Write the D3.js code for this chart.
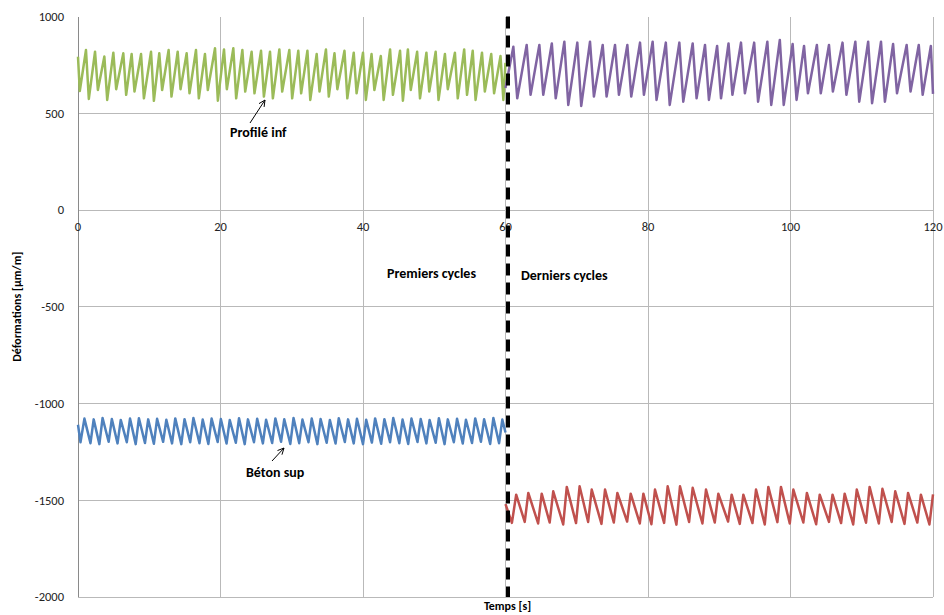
<!DOCTYPE html>
<html><head><meta charset="utf-8">
<script src="https://cdn.jsdelivr.net/npm/d3@7"></script>
<style>
body{margin:0;background:#fff;}
text{font-family:Carlito, Calibri, Lato, "Open Sans", sans-serif;}
</style>
</head><body>
<svg id="c" width="944" height="615"></svg>
<script>
// ---- data ----
const xTicks = [0, 20, 40, 60, 80, 100, 120];
const yTicks = [-2000, -1500, -1000, -500, 0, 500, 1000];

// Profilé inf, premiers cycles (green)
const greenT = [0,0.25,1.12,1.52,2.39,2.79,3.70,4.10,4.96,5.36,6.36,6.76,7.53,7.93,8.85,9.25,10.25,10.65,11.41,11.81,12.72,13.12,13.99,14.39,15.25,15.65,16.56,16.96,17.82,18.22,19.23,19.63,20.49,20.89,21.80,22.20,23.07,23.47,24.37,24.77,25.69,26.09,26.95,27.35,28.26,28.66,29.66,30.06,30.92,31.32,
  32.2,32.6,33.5,33.9,34.8,35.2,36.0,36.4,37.4,37.8,38.7,39.1,40.0,40.4,41.2,41.6,42.5,42.9,43.8,44.2,45.2,45.6,46.3,46.7,47.6,48.0,48.9,49.3,50.2,50.6,51.5,51.9,52.9,53.3,54.2,54.6,55.4,55.8,56.7,57.1,58.0,58.4,59.3,59.7,60];
const greenV = [792,615,827,574,818,620,793,569,813,624,810,595,806,612,806,577,818,564,810,620,827,586,818,624,810,603,827,577,806,620,836,565,830,624,836,577,827,612,818,603,823,586,818,577,830,612,827,577,823,603,
  823,569,806,612,830,586,810,624,823,577,813,603,813,569,806,620,796,569,830,595,823,565,830,620,818,577,813,612,818,569,806,624,813,577,830,595,823,569,813,612,806,603,796,569,760];

// Béton sup, premiers cycles (blue)
const blueT = [0,0.35,0.9,1.75,2.2,3.0,3.45,4.3,4.75,5.55,6.0,6.85,7.3,8.1,8.55,9.4,9.85,10.65,11.1,11.95,12.4,13.2,13.65,14.5,14.95,15.75,16.2,17.05,17.5,18.3,18.75,19.6,20.05,20.85,21.3,22.15,22.6,23.4,23.85,24.7,25.15,25.95,26.4,27.25,27.7,28.5,28.95,29.8,30.25,31.05,31.5,32.35,32.8,33.6,34.05,34.9,35.35,36.15,36.6,37.45,37.9,38.7,39.15,40.0,40.45,41.25,41.7,42.55,43.0,43.8,44.25,45.1,45.55,46.35,46.8,47.65,48.1,48.9,49.35,50.2,50.65,51.45,51.9,52.75,53.2,54.0,54.45,55.3,55.75,56.55,57.0,57.85,58.3,59.1,59.55,60];
const blueV = [-1110,-1200,-1078,-1205,-1082,-1210,-1075,-1198,-1080,-1206,-1085,-1200,-1078,-1210,-1076,-1204,-1082,-1208,-1079,-1198,-1084,-1206,-1077,-1210,-1081,-1200,-1075,-1205,-1083,-1209,-1078,-1199,-1080,-1207,-1085,-1203,-1076,-1210,-1082,-1200,-1079,-1206,-1084,-1204,-1077,-1198,-1081,-1209,-1075,-1205,-1083,-1200,-1078,-1210,-1080,-1203,-1085,-1207,-1076,-1199,-1082,-1206,-1079,-1210,-1084,-1202,-1077,-1208,-1081,-1200,-1075,-1205,-1083,-1209,-1078,-1199,-1080,-1206,-1085,-1203,-1076,-1210,-1082,-1200,-1079,-1207,-1084,-1204,-1077,-1198,-1081,-1209,-1075,-1205,-1083,-1150];

// Profilé inf, derniers cycles (purple)
const purpleT = [60,61.1,61.65,62.97,63.52,64.75,65.3,66.5,67.05,68.26,68.81,70.08,70.63,71.86,72.41,73.64,74.19,75.37,75.92,77.1,77.65,78.88,79.43,80.65,81.2,82.5,83.05,84.4,84.95,86.27,86.82,88.0,88.55,89.7,90.25,91.3,91.85,93.05,93.6,94.9,95.45,96.75,97.3,98.5,99.05,100.3,100.85,101.9,102.45,103.7,104.25,105.4,105.95,107.3,107.85,109.1,109.65,110.9,111.45,112.7,113.25,114.4,114.95,116.3,116.85,118.0,118.55,119.7,120];
const purpleV = [630,844,577,853,595,853,595,861,577,870,543,865,538,870,586,853,586,853,595,853,586,865,595,870,569,865,543,865,560,861,577,853,569,848,577,861,595,865,603,865,560,870,543,879,543,858,569,848,603,853,603,853,612,865,595,870,560,870,552,870,560,858,603,853,612,853,595,848,600];

// Béton sup, derniers cycles (red)
const redT = [60,60.9,61.5,62.7,63.2,64.58,65.08,66.2,66.7,68.1,68.6,69.9,70.4,71.6,72.1,73.47,73.97,75.2,75.7,77.07,77.57,78.85,79.35,80.48,80.98,82.26,82.76,83.99,84.49,85.77,86.27,87.64,88.14,89.37,89.87,91.24,91.74,92.88,93.38,94.66,95.16,96.39,96.89,98.16,98.66,99.9,100.4,101.8,102.3,103.6,104.1,105.4,105.9,107.1,107.6,108.8,109.3,110.6,111.1,112.4,112.9,114.2,114.7,116.0,116.5,117.8,118.3,119.5,120];
const redV = [-1520,-1617,-1471,-1612,-1462,-1620,-1466,-1615,-1454,-1625,-1431,-1618,-1428,-1612,-1445,-1622,-1445,-1615,-1462,-1610,-1466,-1620,-1466,-1624,-1445,-1617,-1428,-1626,-1428,-1612,-1436,-1620,-1445,-1615,-1466,-1610,-1471,-1622,-1471,-1618,-1445,-1625,-1431,-1613,-1431,-1620,-1445,-1615,-1462,-1624,-1471,-1612,-1471,-1618,-1466,-1625,-1445,-1616,-1431,-1620,-1441,-1612,-1454,-1622,-1462,-1615,-1471,-1625,-1470];

const annotations = ["Profilé inf", "Béton sup", "Premiers cycles", "Derniers cycles"];
const xTitle = "Temps [s]";
const yTitle = "Déformations [µm/m]";

// ---- drawing ----
const svg = d3.select("#c");
const x = d3.scaleLinear().domain([0, 120]).range([78, 933]);
const y = d3.scaleLinear().domain([-2000, 1000]).range([597, 16.5]);

const grid = svg.append("g");
grid.selectAll("line.h").data(yTicks.filter(d => d < 1000)).join("line")
  .attr("x1", x(0)).attr("x2", x(120))
  .attr("y1", d => y(d)).attr("y2", d => y(d))
  .attr("stroke", "#b9b9b9").attr("stroke-width", 1).attr("shape-rendering", "crispEdges");
grid.selectAll("line.v").data(xTicks.filter(d => d > 0)).join("line")
  .attr("x1", d => x(d)).attr("x2", d => x(d))
  .attr("y1", y(1000)).attr("y2", y(-2000))
  .attr("stroke", "#b9b9b9").attr("stroke-width", 1).attr("shape-rendering", "crispEdges");
svg.append("line").attr("x1", x(0)).attr("x2", x(0)).attr("y1", y(1000)).attr("y2", y(-2000))
  .attr("stroke", "#8a8a8a").attr("stroke-width", 1).attr("shape-rendering", "crispEdges");

// y tick labels
svg.append("g").selectAll("text").data(yTicks).join("text")
  .attr("x", 64).attr("y", d => y(d)).attr("dy", "0.35em")
  .attr("text-anchor", "end").attr("font-size", 12.5).attr("fill", "#222")
  .text(d => d);
// x tick labels (below the zero line)
svg.append("g").selectAll("text").data(xTicks).join("text")
  .attr("x", d => x(d)).attr("y", y(0) + 17).attr("dy", "0.35em")
  .attr("text-anchor", "middle").attr("font-size", 12.5).attr("fill", "#222")
  .text(d => d);

// series
const line = d3.line().x(d => x(d[0])).y(d => y(d[1]));
const series = [
  {t: greenT, v: greenV, c: "#9bbb59"},
  {t: blueT, v: blueV, c: "#4f81bd"},
  {t: purpleT, v: purpleV, c: "#8064a2"},
  {t: redT, v: redV, c: "#c0504d"}
];
series.forEach(s => {
  svg.append("path").datum(s.t.map((t, i) => [t, s.v[i]]))
    .attr("d", line).attr("fill", "none").attr("stroke", s.c)
    .attr("stroke-width", 2.5).attr("stroke-linejoin", "round");
});

// dashed separator at t = 60
svg.append("line").attr("x1", x(60) + 2.5).attr("x2", x(60) + 2.5).attr("y1", y(1000)).attr("y2", y(-2000))
  .attr("stroke", "#000").attr("stroke-width", 4).attr("stroke-dasharray", "12,7");

// annotations
const bold = (tx, xx, yy, anchor) => svg.append("text").attr("x", xx).attr("y", yy)
  .attr("text-anchor", anchor || "start").attr("font-size", 14).attr("font-weight", "bold")
  .attr("fill", "#000").text(tx);
bold(annotations[0], 230, 137);
bold(annotations[1], 246, 477);
bold(annotations[2], 387, 278);
bold(annotations[3], 521, 280);

function arrow(x1, y1, x2, y2) {
  svg.append("line").attr("x1", x1).attr("y1", y1).attr("x2", x2).attr("y2", y2)
    .attr("stroke", "#000").attr("stroke-width", 1);
  const a = Math.atan2(y2 - y1, x2 - x1), L = 7, w = 0.45;
  svg.append("path").attr("d", `M${x2 - L*Math.cos(a - w)},${y2 - L*Math.sin(a - w)}L${x2},${y2}L${x2 - L*Math.cos(a + w)},${y2 - L*Math.sin(a + w)}`)
    .attr("fill", "none").attr("stroke", "#000").attr("stroke-width", 1);
}
arrow(250, 123, 265, 100);
arrow(272, 461, 284, 448);

// axis titles
svg.append("text").attr("x", x(60) + 2).attr("y", 610).attr("text-anchor", "middle")
  .attr("font-size", 12).attr("font-weight", "bold").text(xTitle);
svg.append("text").attr("transform", `translate(21,${y(-500)}) rotate(-90)`)
  .attr("text-anchor", "middle").attr("font-size", 12).attr("font-weight", "bold").text(yTitle);
</script>
</body></html>
